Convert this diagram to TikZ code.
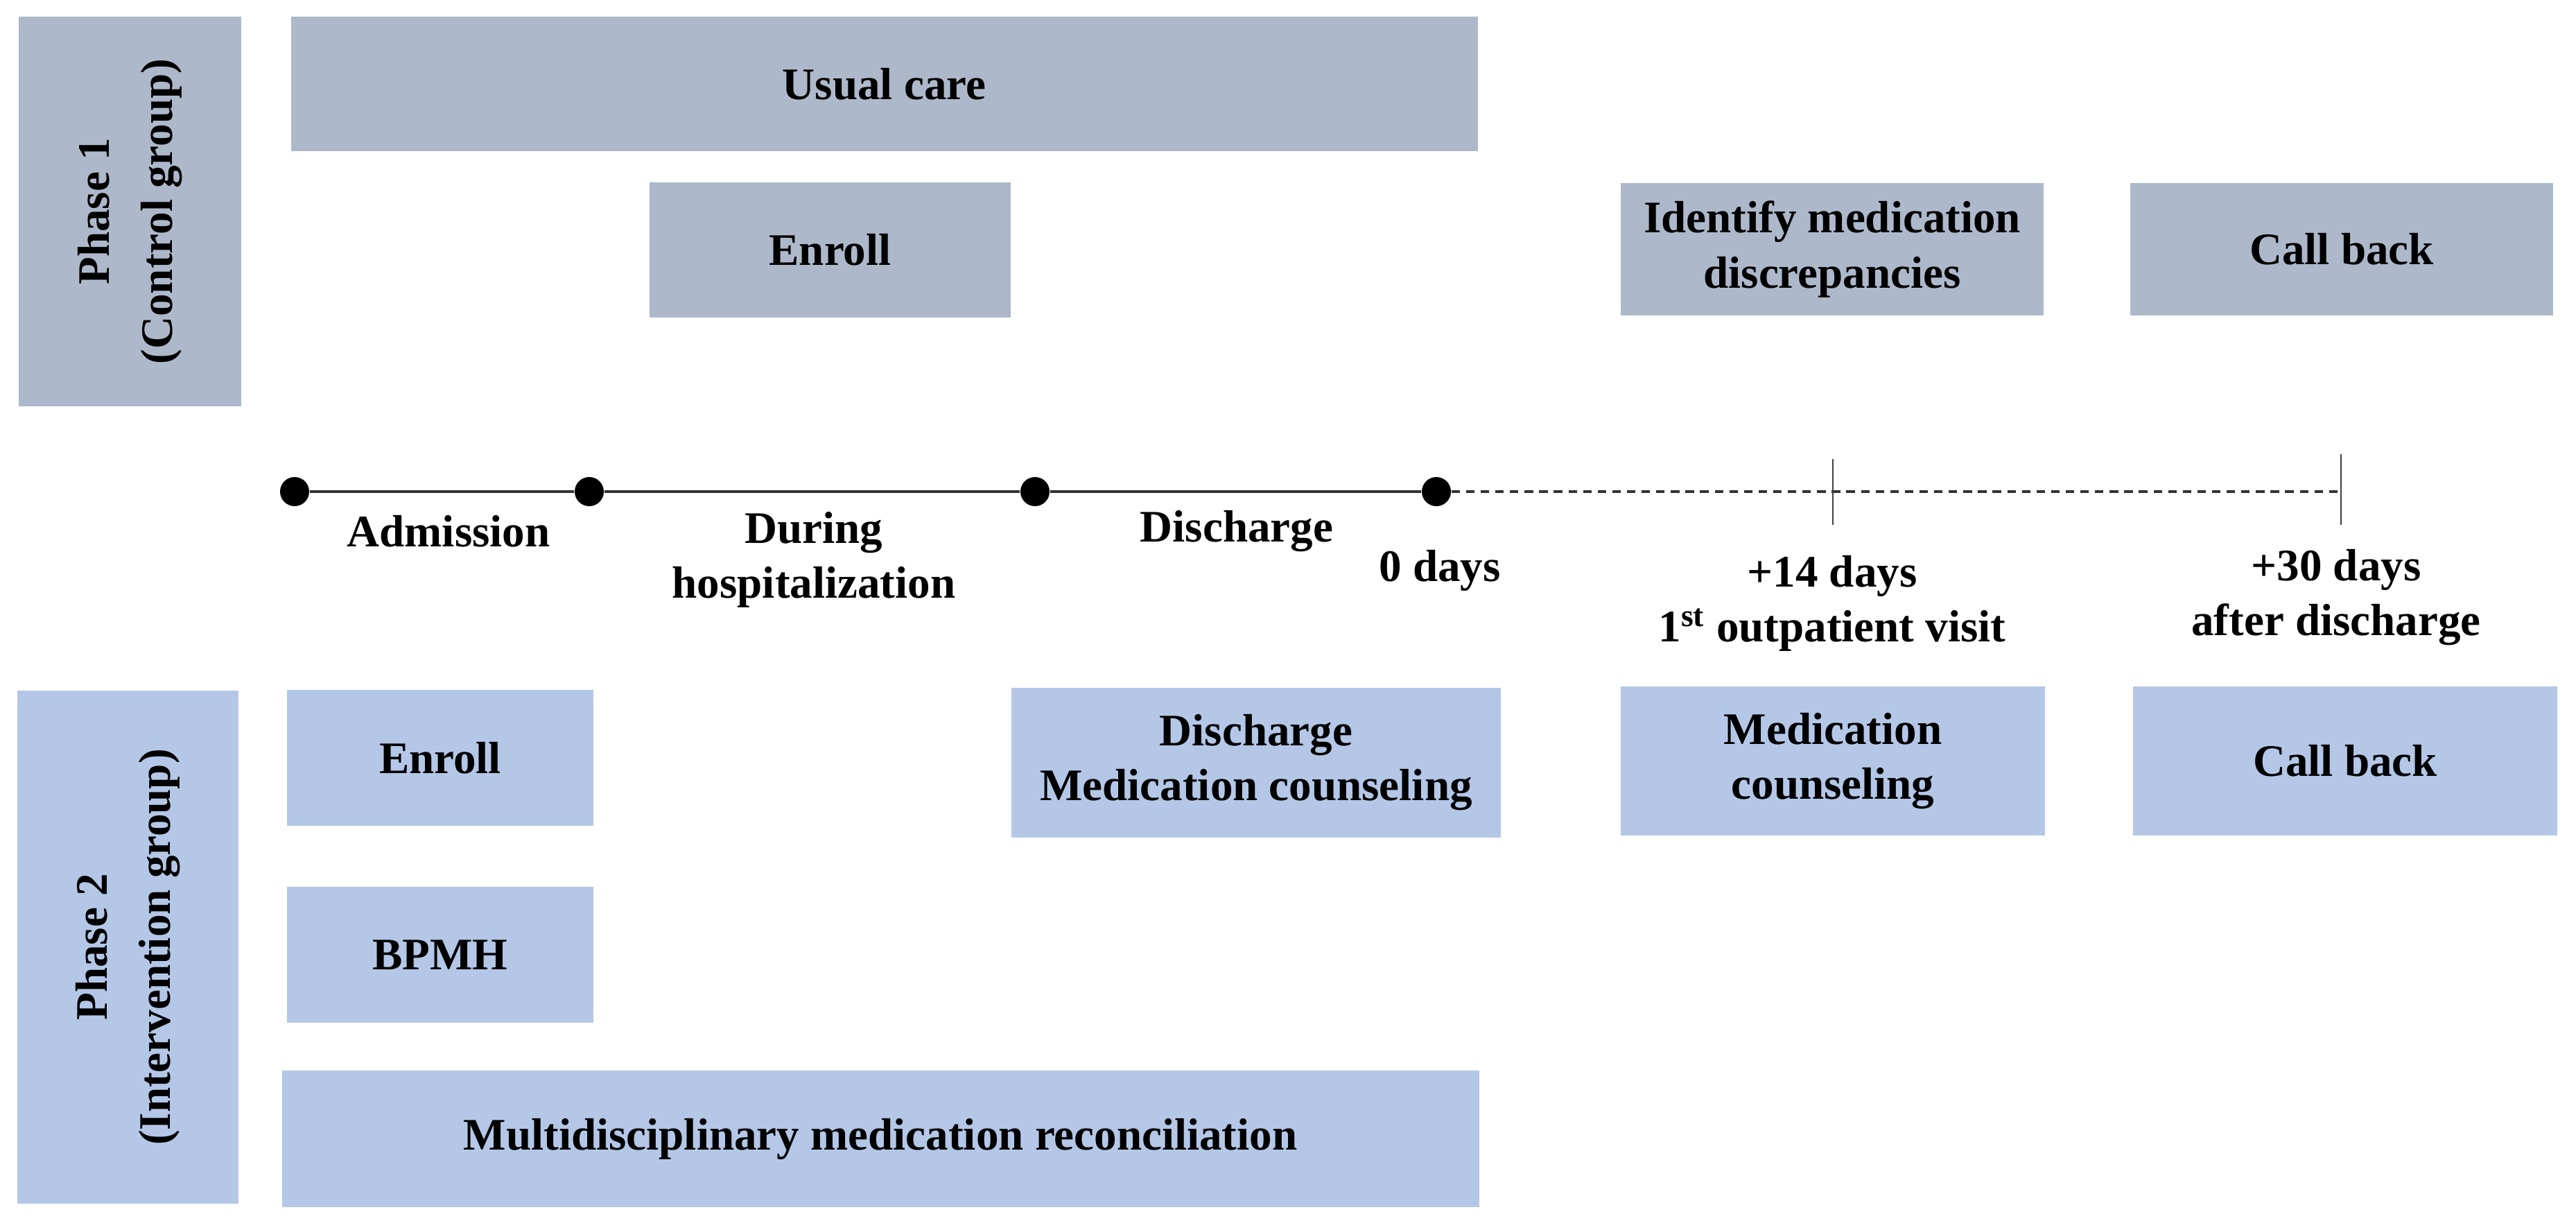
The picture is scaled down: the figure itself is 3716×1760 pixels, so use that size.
\documentclass[tikz,border=0pt]{standalone}
\usepackage{fontspec}
\setmainfont{Liberation Serif}
\usetikzlibrary{positioning}

\definecolor{ctrlfill}{HTML}{ADB9CA}
\definecolor{intvfill}{HTML}{B4C7E7}

\begin{document}
\begin{tikzpicture}[
    x=0.01cm, y=-0.01cm,
    txt_style/.style={font=\bfseries\fontsize{18.5}{22.5}\selectfont, align=center, text=black},
    box_style/.style={txt_style, rectangle, inner sep=0pt},
    ctrl_box/.style={box_style, fill=ctrlfill},
    intv_box/.style={box_style, fill=intvfill},
    phase_label/.style={txt_style, rotate=90, font=\bfseries\fontsize{18.5}{26}\selectfont},
    dot_style/.style={circle, fill=black, inner sep=0pt, minimum size=0.42cm},
    time_line/.style={black!80, line width=1pt},
    future_line/.style={black!80, line width=0.9pt, dash pattern=on 3.5pt off 2.5pt},
    tick_style/.style={black!75, line width=0.6pt},
    time_label/.style={txt_style}
]
\useasboundingbox (0,0) rectangle (3716,1760);

% Phase 1 - control group (top row)
\node[ctrl_box, minimum width=3.21cm, minimum height=5.62cm] (ph1) at (187.5,305) {};
\node[phase_label] (ph1_txt) at (ph1.center) {Phase 1\\(Control group)};
\node[ctrl_box, minimum width=17.11cm, minimum height=1.94cm] (usual) at (1275.5,121) {Usual care};
\node[ctrl_box, minimum width=5.21cm, minimum height=1.95cm] (enroll_c) at (1197.5,360.5) {Enroll};
\node[ctrl_box, minimum width=6.10cm, minimum height=1.91cm] (identify) at (2643,359.5) {Identify medication\\discrepancies};
\node[ctrl_box, minimum width=6.10cm, minimum height=1.91cm] (call_c) at (3378,359.5) {Call back};

% Timeline
\node[dot_style] (t_adm) at (425,709) {};
\node[dot_style] (t_hosp) at (850,709) {};
\node[dot_style] (t_dis) at (1493,709) {};
\node[dot_style] (t_zero) at (2072,709) {};
\coordinate (t_14) at (2644,709);
\coordinate (t_30) at (3377,709);
\draw[time_line] (t_adm) -- (t_hosp) -- (t_dis) -- (t_zero);
\draw[future_line] (t_zero) -- (t_30);
\draw[tick_style] ([yshift=0.47cm]t_14) -- ([yshift=-0.48cm]t_14);
\draw[tick_style] ([yshift=0.54cm]t_30) -- ([yshift=-0.48cm]t_30);

% Timeline labels
\node[time_label] (lbl_adm) at (647,766) {Admission};
\node[time_label] (lbl_hosp) at (1174,807) {During\\hospitalization};
\node[time_label] (lbl_dis) at (1784,766) {Discharge};
\node[time_label] (lbl_zero) at (2077,823) {0 days};
\node[time_label] (lbl_14) at (2643,870) {+14 days\\1\textsuperscript{st} outpatient visit};
\node[time_label] (lbl_30) at (3370,862) {+30 days\\after discharge};

% Phase 2 - intervention group (bottom rows)
\node[intv_box, minimum width=3.19cm, minimum height=7.40cm] (ph2) at (184.5,1366) {};
\node[phase_label] (ph2_txt) at (ph2.center) {Phase 2\\(Intervention group)};
\node[intv_box, minimum width=4.42cm, minimum height=1.96cm] (enroll_i) at (635,1093) {Enroll};
\node[intv_box, minimum width=7.06cm, minimum height=2.16cm] (dis_coun) at (1812,1100) {Discharge\\Medication counseling};
\node[intv_box, minimum width=6.12cm, minimum height=2.15cm] (med_coun) at (2644,1097.5) {Medication\\counseling};
\node[intv_box, minimum width=6.12cm, minimum height=2.15cm] (call_i) at (3383,1097.5) {Call back};
\node[intv_box, minimum width=4.42cm, minimum height=1.96cm] (bpmh) at (635,1377) {BPMH};
\node[intv_box, minimum width=17.26cm, minimum height=1.97cm] (multi) at (1270,1642.5) {Multidisciplinary medication reconciliation};

\end{tikzpicture}
\end{document}
